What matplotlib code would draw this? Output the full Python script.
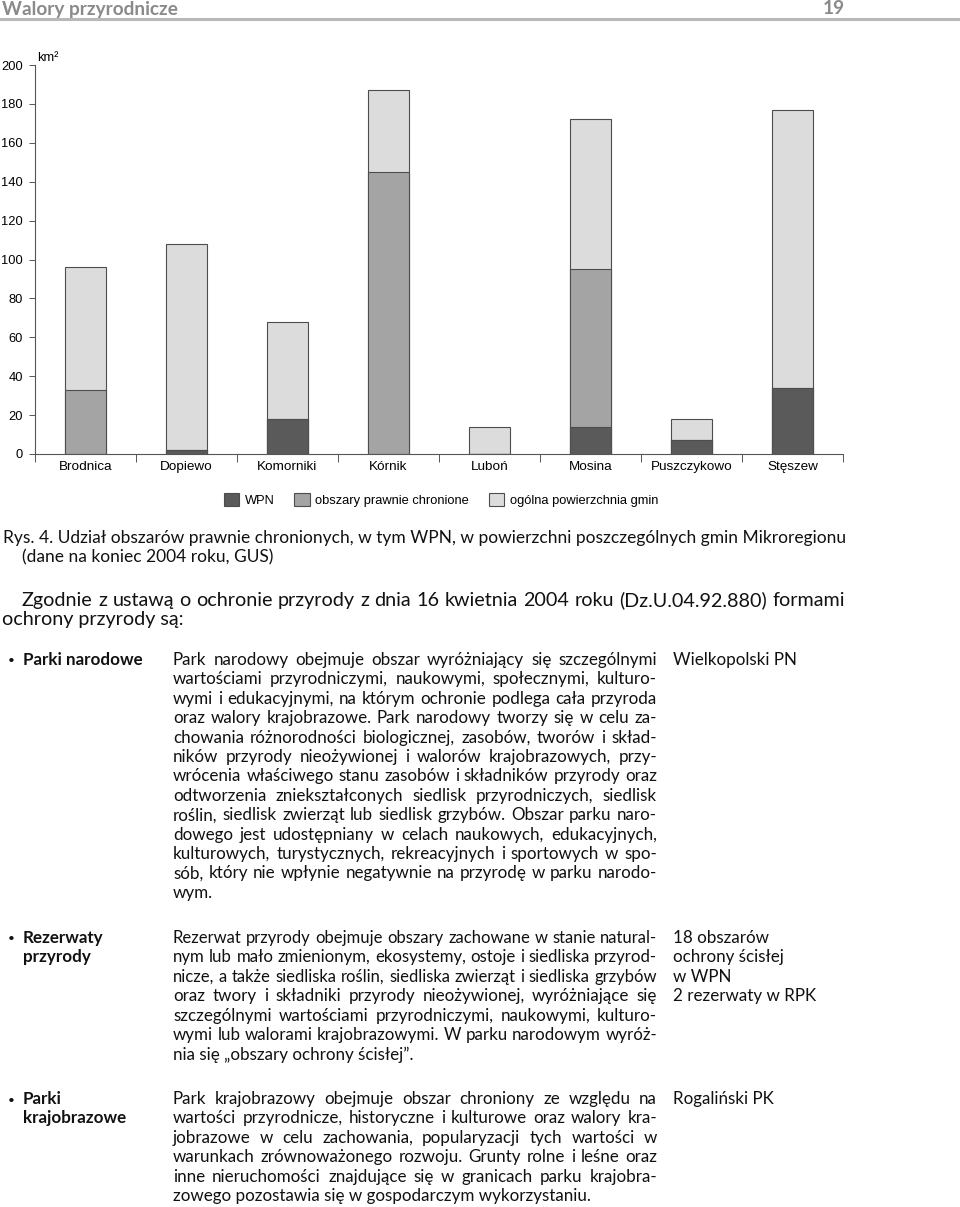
import matplotlib
matplotlib.use("Agg")
import matplotlib.pyplot as plt
from matplotlib.font_manager import FontProperties
from matplotlib.patches import Patch
from matplotlib.lines import Line2D
import numpy as np

# dane wykresu (km2)
gminy = ["Brodnica", "Dopiewo", "Komorniki", "Kórnik", "Luboń", "Mosina", "Puszczykowo", "Stęszew"]
ogolna = [96, 108, 68, 187, 14, 172, 18, 177]
chronione = [33, 2, 18, 145, 0, 95, 7, 34]
wpn = [0, 2, 18, 0, 0, 14, 7, 34]
y_ticks = [0, 20, 40, 60, 80, 100, 120, 140, 160, 180, 200]
legend_labels = ["WPN", "obszary prawnie chronione", "ogólna powierzchnia gmin"]

header = "Walory przyrodnicze"
page_no = "19"
caption = ["Rys. 4. Udział obszarów prawnie chronionych, w tym WPN, w powierzchni poszczególnych gmin Mikroregionu",
           "(dane na koniec 2004 roku, GUS)"]
intro = ["Zgodnie z ustawą o ochronie przyrody z dnia 16 kwietnia 2004 roku (Dz.U.04.92.880) formami",
         "ochrony przyrody są:"]

forms = [
    (["Parki narodowe"],
     ["Park narodowy obejmuje obszar wyróżniający się szczególnymi",
      "wartościami przyrodniczymi, naukowymi, społecznymi, kulturo-",
      "wymi i edukacyjnymi, na którym ochronie podlega cała przyroda",
      "oraz walory krajobrazowe. Park narodowy tworzy się w celu za-",
      "chowania różnorodności biologicznej, zasobów, tworów i skład-",
      "ników przyrody nieożywionej i walorów krajobrazowych, przy-",
      "wrócenia właściwego stanu zasobów i składników przyrody oraz",
      "odtworzenia zniekształconych siedlisk przyrodniczych, siedlisk",
      "roślin, siedlisk zwierząt lub siedlisk grzybów. Obszar parku naro-",
      "dowego jest udostępniany w celach naukowych, edukacyjnych,",
      "kulturowych, turystycznych, rekreacyjnych i sportowych w spo-",
      "sób, który nie wpłynie negatywnie na przyrodę w parku narodo-",
      "wym."],
     ["Wielkopolski PN"]),
    (["Rezerwaty", "przyrody"],
     ["Rezerwat przyrody obejmuje obszary zachowane w stanie natural-",
      "nym lub mało zmienionym, ekosystemy, ostoje i siedliska przyrod-",
      "nicze, a także siedliska roślin, siedliska zwierząt i siedliska grzybów",
      "oraz twory i składniki przyrody nieożywionej, wyróżniające się",
      "szczególnymi wartościami przyrodniczymi, naukowymi, kulturo-",
      "wymi lub walorami krajobrazowymi. W parku narodowym wyróż-",
      "nia się „obszary ochrony ścisłej”."],
     ["18 obszarów", "ochrony ścisłej", "w WPN", "2 rezerwaty w RPK"]),
    (["Parki", "krajobrazowe"],
     ["Park krajobrazowy obejmuje obszar chroniony ze względu na",
      "wartości przyrodnicze, historyczne i kulturowe oraz walory kra-",
      "jobrazowe w celu zachowania, popularyzacji tych wartości w",
      "warunkach zrównoważonego rozwoju. Grunty rolne i leśne oraz",
      "inne nieruchomości znajdujące się w granicach parku krajobra-",
      "zowego pozostawia się w gospodarczym wykorzystaniu."],
     ["Rogaliński PK"]),
]
form_tops = [660, 938, 1099]

W, H = 960, 1207
plt.rcParams["font.family"] = ["Liberation Sans", "DejaVu Sans"]
fig = plt.figure(figsize=(W / 100, H / 100), dpi=100)
renderer = fig.canvas.get_renderer()
ink = "#111111"

def fx(x):
    return x / W

def fy(y):
    return 1 - y / H

def width(s, fp):
    w, h, d = renderer.get_text_width_height_descent(s, fp, ismath=False)
    return w

def fit(s, target, family, weight="normal"):
    fp = FontProperties(family=family, weight=weight, size=10)
    return 10 * target / width(s, fp)

def put_line(s, x0, y, target, fp, justify=True, color=ink):
    fp = fp.copy()
    nat = width(s, fp)
    if nat > target:
        fp.set_size(fp.get_size_in_points() * target / nat)
    words = s.split(" ")
    if not justify or len(words) < 2:
        fig.text(fx(x0), fy(y), s, fontproperties=fp, color=color, ha="left", va="center")
        return
    ws = [width(w, fp) for w in words]
    gap = (target - sum(ws)) / (len(words) - 1)
    x = x0
    for w, wd in zip(words, ws):
        fig.text(fx(x), fy(y), w, fontproperties=fp, color=color, ha="left", va="center")
        x += wd + gap

# --- naglowek strony ---
txt_family = ["Lato", "DejaVu Sans"]
hs = fit(header, 176, txt_family, "bold")
fig.text(fx(2), fy(9), header, family=txt_family, weight="bold", size=hs, color="#8a8a8a", va="center")
fig.text(fx(834), fy(9), page_no, family=txt_family, weight="bold", size=hs, color="#8a8a8a",
         va="center", ha="center")
fig.add_artist(Line2D([0, 1], [fy(19), fy(19)], transform=fig.transFigure, lw=2.2, color="#b8b8b8"))

# --- wykres ---
ax = fig.add_axes([fx(35), fy(454), (843 - 35) / W, (454 - 65) / H])
x = np.arange(len(gminy))
ec = "#4d4d4d"
ax.bar(x, ogolna, width=0.4, color="#dcdcdc", edgecolor=ec, linewidth=0.8, zorder=2)
ax.bar(x, chronione, width=0.4, color="#a4a4a4", edgecolor=ec, linewidth=0.8, zorder=3)
ax.bar(x, wpn, width=0.4, color="#5a5a5a", edgecolor=ec, linewidth=0.8, zorder=4)
ax.set_xlim(-0.5, len(gminy) - 0.5)
ax.set_ylim(0, 200)
ax.set_yticks(y_ticks)
ax.tick_params(axis="y", length=4.3, width=0.7, color="#555555", pad=4.3, labelsize=9.3)
ax.set_xticks(np.arange(len(gminy) + 1) - 0.5)
ax.set_xticklabels([])
ax.set_xticks(x, minor=True)
ax.set_xticklabels(gminy, minor=True)
ax.tick_params(axis="x", which="major", length=6, width=0.7, color="#555555")
ax.tick_params(axis="x", which="minor", length=0, pad=5, labelsize=9.7)
for side in ["top", "right"]:
    ax.spines[side].set_visible(False)
for side in ["left", "bottom"]:
    ax.spines[side].set_color("#555555")
    ax.spines[side].set_linewidth(0.8)
ax.patch.set_alpha(0)
fig.text(fx(37), fy(58), "km²", size=9.3, va="center", ha="left")

handles = [Patch(facecolor=c, edgecolor=ec, linewidth=0.8) for c in ["#5a5a5a", "#a4a4a4", "#dcdcdc"]]
fig.legend(handles, legend_labels, loc="center", bbox_to_anchor=(fx(441), fy(500)), ncol=3,
           frameon=False, fontsize=9.3, handlelength=1.2, handleheight=1.2, handletextpad=0.45,
           columnspacing=1.5)

# --- podpis i tekst ---
cs = fit(caption[0], 842, txt_family)
fp_cap = FontProperties(family=txt_family, size=cs)
put_line(caption[0], 3, 538, 842, fp_cap, justify=False)
put_line(caption[1], 22, 557, 400, fp_cap, justify=False)

ins = fit(intro[0], 818, txt_family)
fp_in = FontProperties(family=txt_family, size=ins)
put_line(intro[0], 22, 600, 823, fp_in, justify=True)
put_line(intro[1], 2, 620, 400, fp_in, justify=False)

bs = fit("wymi i edukacyjnymi, na którym ochronie podlega cała przyroda", 478, txt_family)
fp_body = FontProperties(family=txt_family, size=bs)
fp_bold = FontProperties(family=txt_family, size=bs, weight="bold")
step = 19.4
for (labels, body, notes), top in zip(forms, form_tops):
    fig.text(fx(11), fy(top + 1), "•", family=txt_family, size=bs * 0.7, ha="center", va="center", color=ink)
    for i, s in enumerate(labels):
        fig.text(fx(23), fy(top + i * step), s, fontproperties=fp_bold, va="center", color=ink)
    for i, s in enumerate(body):
        put_line(s, 173, top + i * step, 484, fp_body, justify=(i < len(body) - 1))
    for i, s in enumerate(notes):
        fig.text(fx(673), fy(top + i * step), s, fontproperties=fp_body, va="center", color=ink)

fig.savefig("out.png", dpi=100)
